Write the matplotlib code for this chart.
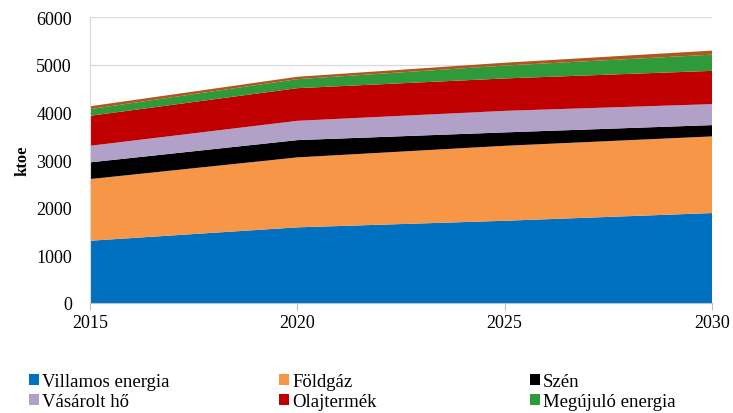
import matplotlib
matplotlib.use("Agg")
import matplotlib.pyplot as plt
from matplotlib.patches import Patch

years = [2015, 2020, 2025, 2030]
villamos = [1306, 1587, 1725, 1887]
foldgaz = [1294, 1468, 1573, 1608]
szen = [350, 362, 281, 237]
vasarolt = [348, 405, 452, 440]
olaj = [629, 685, 680, 698]
megujulo = [140, 189, 270, 340]
egyeb = [60, 50, 60, 85]

labels = ["Villamos energia", "Földgáz", "Szén", "Vásárolt hő", "Olajtermék", "Megújuló energia", "Egyéb"]
colors = ["#0070C0", "#F79646", "#000000", "#B1A0C7", "#C00000", "#2E9A3A", "#B0561E"]
yticks = [0, 1000, 2000, 3000, 4000, 5000, 6000]
xticks = [2015, 2020, 2025, 2030]

plt.rcParams['font.family'] = ['Liberation Serif', 'DejaVu Serif']

fig = plt.figure(figsize=(7.33, 4.14), dpi=100)
ax = fig.add_axes([90/733, 1-304/414, (712-90)/733, (304-18)/414])

series = [villamos, foldgaz, szen, vasarolt, olaj, megujulo, egyeb]
ax.stackplot(years, *series, colors=colors, labels=labels, linewidth=0)

ax.set_xlim(2015, 2030)
ax.set_ylim(0, 6000)
ax.set_yticks(yticks)
ax.set_xticks(xticks)
ax.grid(axis='y', color='#D9D9D9', linewidth=0.9)
ax.set_axisbelow(True)
for s in ['top', 'right']:
    ax.spines[s].set_visible(False)
ax.spines['left'].set_color('#D9D9D9')
ax.spines['bottom'].set_color('#BFBFBF')
ax.tick_params(axis='y', length=0, labelsize=13, pad=13)
ax.tick_params(axis='x', length=5, color='#BFBFBF', labelsize=13, pad=3)
ax.set_ylabel("ktoe", fontsize=12, fontweight='bold', labelpad=4)

# legend: three columns, row-major order
cols = [(0, 3), (1, 4), (2, 5)]
xpos = [29/733, 279/733, 530/733]
for (a, b), xp in zip(cols, xpos):
    handles = [Patch(facecolor=colors[i], edgecolor='none', label=labels[i]) for i in (a, b)]
    fig.legend(handles=handles, loc='upper left', bbox_to_anchor=(xp, 1-374/414),
               frameon=False, fontsize=13.5, handlelength=0.55, handleheight=0.55,
               handletextpad=0.15, labelspacing=0.18, borderpad=0, borderaxespad=0)

fig.savefig("out.png", dpi=100)
